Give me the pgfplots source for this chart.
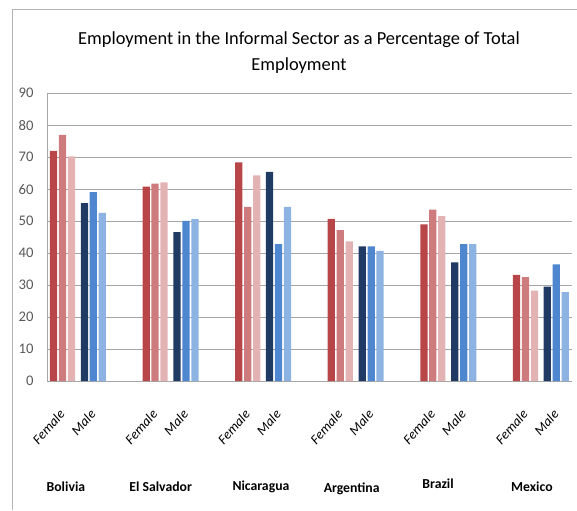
\documentclass[border=0pt]{standalone}
\usepackage{pgfplots}
\pgfplotsset{compat=1.18}
\usepackage{fontspec}
\setmainfont{Carlito}
\definecolor{fa}{HTML}{B84649}
\definecolor{fb}{HTML}{CE7B7D}
\definecolor{fc}{HTML}{E3B3B3}
\definecolor{ma}{HTML}{1F3A63}
\definecolor{mb}{HTML}{4F86D0}
\definecolor{mc}{HTML}{8DB3E2}
\definecolor{gridgray}{HTML}{A6A6A6}
\definecolor{framegray}{HTML}{B4B4B4}
\definecolor{textgray}{HTML}{595959}
\begin{document}
\begin{tikzpicture}
\path[use as bounding box] (0pt,0pt) rectangle (432.75pt,-382.5pt);
\draw[color=framegray, line width=0.75pt] (9.2pt,-382.5pt) -- (9.2pt,-7.1pt) -- (432.75pt,-7.1pt);
\node[font=\fontsize{13.8}{16}\selectfont, anchor=base] at (224.25pt,-33.3pt) {Employment in the Informal Sector as a Percentage of Total};
\node[font=\fontsize{13.8}{16}\selectfont, anchor=base] at (224.25pt,-52.8pt) {Employment};
\begin{axis}[
  at={(35.3pt,-285.75pt)}, anchor=south west,
  scale only axis, width=393.5pt, height=215.8pt,
  xmin=-0.5, xmax=16.5, ymin=0, ymax=90,
  ytick={0,10,...,90},
  xtick={0,1,3,4,6,7,9,10,12,13,15,16},
  xticklabels={Female,Male,Female,Male,Female,Male,Female,Male,Female,Male,Female,Male},
  ymajorgrids, grid style={color=gridgray, line width=0.75pt},
  axis lines*=left,
  axis line style={color=gridgray, line width=0.75pt},
  tick style={draw=none},
  /pgf/number format/assume math mode=true,
  yticklabel style={font=\fontsize{11}{13}\selectfont, color=textgray, inner sep=0pt, xshift=-10pt},
  xticklabel style={font=\fontsize{10.3}{12}\selectfont\itshape, inner sep=0pt, yshift=-20.5pt, xshift=-3pt, rotate=48, anchor=north east},
  clip=false,
]
\addplot[ybar, bar width=0.235, bar shift=-0.29, fill=fa, draw=none] coordinates {(0,72.0) (3,60.8) (6,68.4) (9,50.7) (12,49.0) (15,33.2)};
\addplot[ybar, bar width=0.235, bar shift=0, fill=fb, draw=none] coordinates {(0,77.0) (3,61.7) (6,54.5) (9,47.2) (12,53.6) (15,32.5)};
\addplot[ybar, bar width=0.235, bar shift=0.29, fill=fc, draw=none] coordinates {(0,70.3) (3,62.1) (6,64.3) (9,43.7) (12,51.6) (15,28.3)};
\addplot[ybar, bar width=0.235, bar shift=-0.29, fill=ma, draw=none] coordinates {(1,55.6) (4,46.6) (7,65.4) (10,42.1) (13,37.1) (16,29.5)};
\addplot[ybar, bar width=0.235, bar shift=0, fill=mb, draw=none] coordinates {(1,59.1) (4,50.1) (7,42.8) (10,42.1) (13,42.8) (16,36.5)};
\addplot[ybar, bar width=0.235, bar shift=0.29, fill=mc, draw=none] coordinates {(1,52.6) (4,50.6) (7,54.5) (10,40.7) (13,42.8) (16,27.8)};
\node[font=\fontsize{10.3}{12}\selectfont\bfseries] at (axis cs:0.11,-33.2) {Bolivia};
\node[font=\fontsize{10.3}{12}\selectfont\bfseries] at (axis cs:3.18,-33.2) {El Salvador};
\node[font=\fontsize{10.3}{12}\selectfont\bfseries] at (axis cs:6.43,-33.2) {Nicaragua};
\node[font=\fontsize{10.3}{12}\selectfont\bfseries] at (axis cs:9.37,-33.8) {Argentina};
\node[font=\fontsize{10.3}{12}\selectfont\bfseries] at (axis cs:12.17,-32.2) {Brazil};
\node[font=\fontsize{10.3}{12}\selectfont\bfseries] at (axis cs:15.21,-33.2) {Mexico};
\end{axis}
\end{tikzpicture}
\end{document}
